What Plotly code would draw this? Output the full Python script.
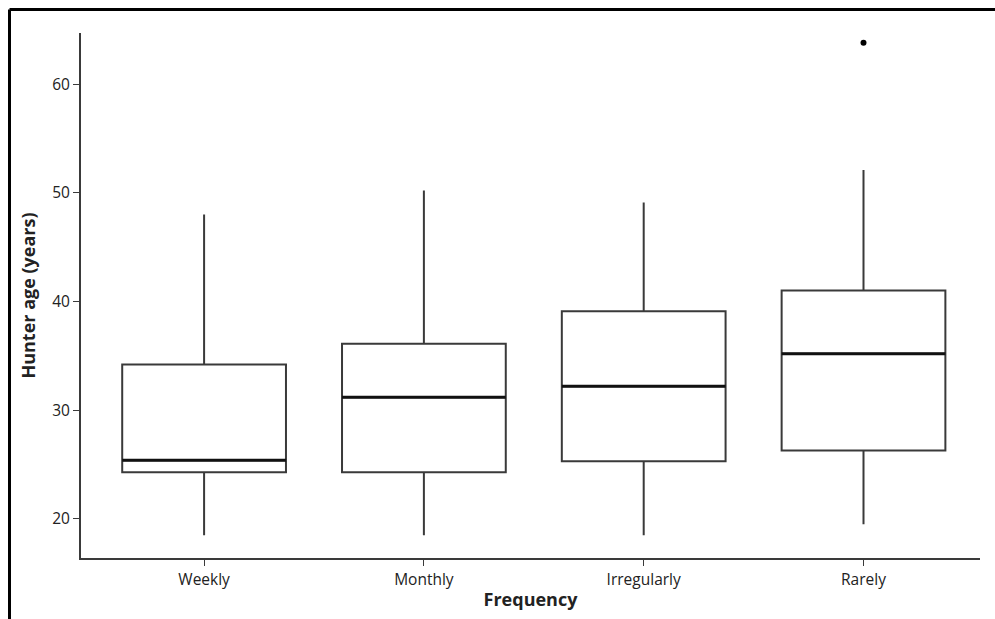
import plotly.graph_objects as go

categories = ["Weekly", "Monthly", "Irregularly", "Rarely"]
lower = [18.5, 18.5, 18.5, 19.5]
q1 = [24.3, 24.3, 25.3, 26.3]
median = [25.4, 31.2, 32.2, 35.2]
q3 = [34.2, 36.1, 39.1, 41.0]
upper = [48.0, 50.2, 49.1, 52.1]
outlier_cat = [3]
outlier_val = [63.8]
y_ticks = [20, 30, 40, 50, 60]

W, H = 995, 619
ml, mr, mt, mb = 81, 15, 33, 61
box_w = 0.745
line_col = "#3a3a3a"

fig = go.Figure()
xs = list(range(len(categories)))
fig.add_trace(go.Box(
    x=xs, q1=q1, median=median, q3=q3, lowerfence=lower, upperfence=upper,
    width=box_w, whiskerwidth=0, fillcolor="white",
    line=dict(color=line_col, width=2), boxpoints=False, showlegend=False,
    hoverinfo="skip"))
for i, m in enumerate(median):
    fig.add_trace(go.Scatter(x=[i - box_w / 2, i + box_w / 2], y=[m, m], mode="lines",
                             line=dict(color="#111", width=3), showlegend=False, hoverinfo="skip"))
fig.add_trace(go.Scatter(x=outlier_cat, y=outlier_val, mode="markers",
                         marker=dict(color="black", size=6), showlegend=False, hoverinfo="skip"))

pw, ph = W - ml - mr, H - mt - mb
xl = (9.5 - ml) / pw
yt = (H - mb - 9.5) / ph
fig.update_layout(
    width=W, height=H, margin=dict(l=ml, r=mr, t=mt, b=mb),
    paper_bgcolor="white", plot_bgcolor="white",
    font=dict(family="Open Sans", color="#222", size=14),
    shapes=[
        dict(type="line", xref="paper", yref="paper", x0=xl, x1=xl, y0=-0.3, y1=yt,
             line=dict(color="black", width=3)),
        dict(type="line", xref="paper", yref="paper", x0=xl, x1=1.2, y0=yt, y1=yt,
             line=dict(color="black", width=3)),
    ],
    xaxis=dict(range=[-0.56, 3.53], tickvals=xs, ticktext=categories, showgrid=False,
               zeroline=False, showline=True, linecolor=line_col, linewidth=2,
               ticks="outside", ticklen=6, tickcolor=line_col,
               tickfont=dict(size=15.5),
               title=dict(text="<b>Frequency</b>", font=dict(size=18), standoff=5)),
    yaxis=dict(range=[16.4, 64.7], tickvals=y_ticks, showgrid=False, zeroline=False,
               showline=True, linecolor=line_col, linewidth=2,
               ticks="outside", ticklen=6, tickcolor=line_col,
               tickfont=dict(size=15.5),
               title=dict(text="<b>Hunter age (years)</b>", font=dict(size=18), standoff=12)),
)
fig.write_html("out.html")
